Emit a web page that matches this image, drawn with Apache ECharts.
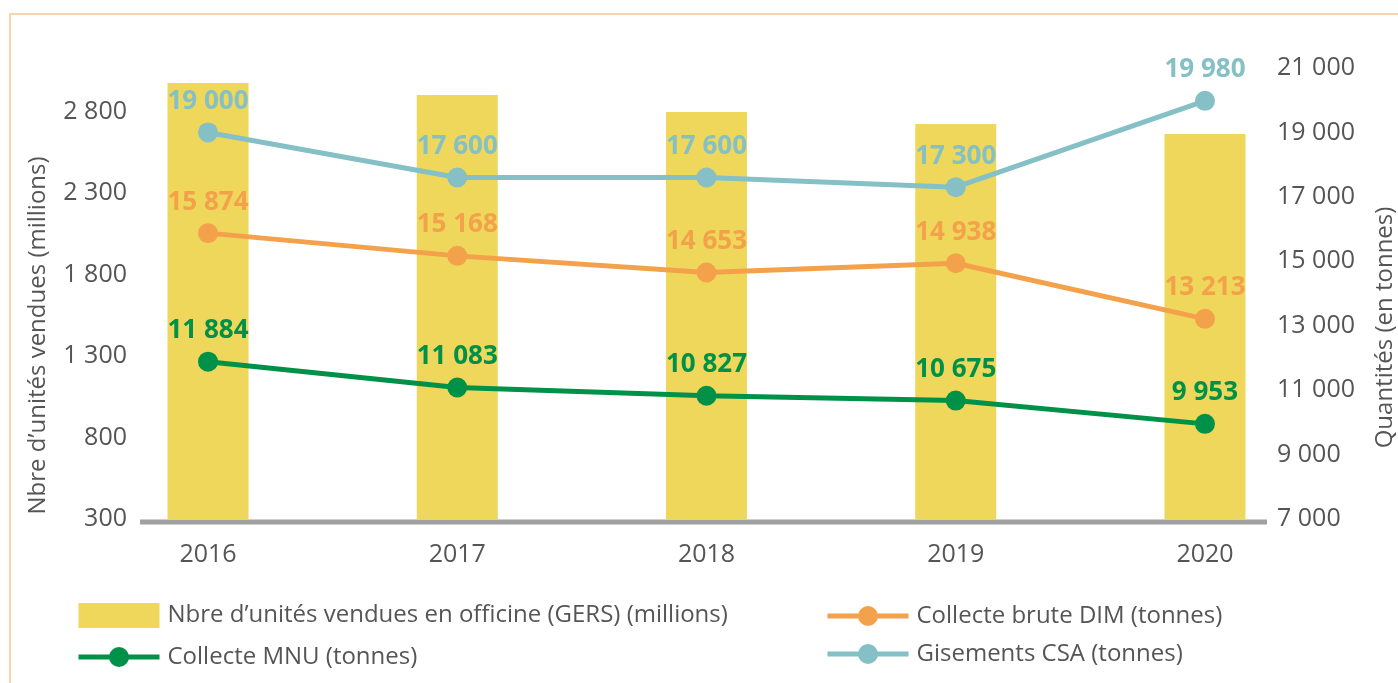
<!DOCTYPE html>
<html>
<head>
<meta charset="utf-8">
<script src="https://cdn.jsdelivr.net/npm/echarts@6/dist/echarts.min.js"></script>
<style>
html,body{margin:0;padding:0;background:#fff;}
#chart{width:1398px;height:683px;}
</style>
</head>
<body>
<div id="chart"></div>
<script>
const years = ['2016', '2017', '2018', '2019', '2020'];
const unitsSold = [2975, 2901, 2797, 2723, 2662];
const collecteMNU = [11884, 11083, 10827, 10675, 9953];
const collecteDIM = [15874, 15168, 14653, 14938, 13213];
const gisementsCSA = [19000, 17600, 17600, 17300, 19980];
const seriesNames = [
  'Nbre d\u2019unités vendues en officine (GERS) (millions)',
  'Collecte MNU (tonnes)',
  'Collecte brute DIM (tonnes)',
  'Gisements CSA (tonnes)'
];
const leftAxisName = 'Nbre d\u2019unités vendues (millions)';
const rightAxisName = 'Quantités (en tonnes)';

const FONT = '"Open Sans", "Noto Sans", sans-serif';
const fmt = v => String(Math.round(v)).replace(/\B(?=(\d{3})+(?!\d))/g, ' ');
const colors = { bar: '#eed75a', mnu: '#009149', dim: '#f4a14c', csa: '#84c0c6' };

function lineSeries(name, data, color) {
  return {
    name: name, type: 'line', yAxisIndex: 1, data: data,
    symbol: 'circle', symbolSize: 20,
    lineStyle: { color: color, width: 5 },
    itemStyle: { color: color },
    label: {
      show: true, position: 'top', distance: 8,
      color: color, fontFamily: FONT, fontWeight: 'bold', fontSize: 26,
      formatter: p => fmt(p.value)
    },
    z: 5
  };
}

const legendText = { fontFamily: FONT, fontSize: 24, color: '#555', padding: [0, 0, 0, 3] };

const chart = echarts.init(document.getElementById('chart'));
chart.setOption({
  animation: false,
  backgroundColor: '#fff',
  grid: { left: 83.4, right: 68.4, top: 68, bottom: 164, containLabel: false, outerBoundsMode: 'none' },
  graphic: [
    { type: 'rect', shape: { x: 10, y: 14, width: 1500, height: 800 },
      style: { fill: 'none', stroke: '#f6c596', lineWidth: 1.5 }, z: -10 },
    { type: 'line', shape: { x1: 140, y1: 522, x2: 1267, y2: 522 },
      style: { stroke: '#a0a0a0', lineWidth: 5 }, z: 10 }
  ],
  legend: [
    { data: [{ name: seriesNames[0], icon: 'rect' }, { name: seriesNames[1] }], orient: 'vertical',
      left: 76, top: 603, padding: 0, itemWidth: 81, itemHeight: 25, itemGap: 17,
      lineStyle: { width: 5 }, textStyle: legendText },
    { data: [seriesNames[2], seriesNames[3]], orient: 'vertical',
      left: 825, top: 604, padding: 0, itemWidth: 81, itemHeight: 25, itemGap: 14,
      lineStyle: { width: 5 }, textStyle: legendText }
  ],
  xAxis: {
    type: 'category', data: years, boundaryGap: true,
    axisLine: { show: false }, axisTick: { show: false },
    axisLabel: { margin: 23, fontFamily: FONT, fontSize: 25, color: '#555' }
  },
  yAxis: [
    { type: 'value', min: 300, max: 3067, interval: 500, offset: -56.6,
      splitLine: { show: false }, axisLine: { show: false }, axisTick: { show: false },
      axisLabel: { margin: 13, showMaxLabel: false, fontFamily: FONT, fontSize: 25, color: '#555',
        formatter: v => ((v - 300) % 500 === 0 ? fmt(v) : '') },
      name: leftAxisName, nameLocation: 'middle', nameGap: 90, nameRotate: 90, nameMoveOverlap: false,
      nameTextStyle: { fontFamily: FONT, fontSize: 24, color: '#555', padding: [0, 84, 0, 0] } },
    { type: 'value', min: 7000, max: 21000, interval: 2000, offset: -62.6, position: 'right',
      splitLine: { show: false }, axisLine: { show: false }, axisTick: { show: false },
      axisLabel: { margin: 10, fontFamily: FONT, fontSize: 25, color: '#555', formatter: v => fmt(v) },
      name: rightAxisName, nameLocation: 'middle', nameGap: 106, nameRotate: 90, nameMoveOverlap: false,
      nameTextStyle: { fontFamily: FONT, fontSize: 24, color: '#555', padding: [0, 68, 0, 0] } }
  ],
  series: [
    { name: seriesNames[0], type: 'bar', yAxisIndex: 0, data: unitsSold,
      barWidth: 81, itemStyle: { color: colors.bar }, z: 1 },
    lineSeries(seriesNames[1], collecteMNU, colors.mnu),
    lineSeries(seriesNames[2], collecteDIM, colors.dim),
    lineSeries(seriesNames[3], gisementsCSA, colors.csa)
  ]
});
</script>
</body>
</html>
